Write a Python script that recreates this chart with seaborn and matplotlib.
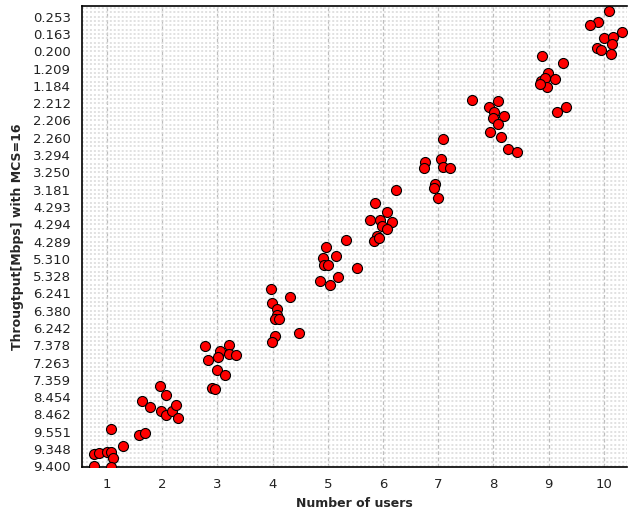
import matplotlib
matplotlib.use("Agg")
import matplotlib.pyplot as plt
import seaborn as sns
import pandas as pd
from matplotlib.ticker import MultipleLocator

# Y-axis category labels (bottom to top)
y_labels = ["9.400", "9.348", "9.551", "8.462", "8.454", "7.359", "7.263", "7.378",
            "6.242", "6.380", "6.241", "5.328", "5.310", "4.289", "4.294", "4.293",
            "3.181", "3.250", "3.294", "2.260", "2.206", "2.212", "1.184", "1.209",
            "0.200", "0.163", "0.253"]
x_ticks = [1, 2, 3, 4, 5, 6, 7, 8, 9, 10]

# jittered points: number of users (x) and throughput category position (y)
users = [
    1.078, 1.284, 0.764, 0.861, 0.995, 1.067, 1.103, 0.764, 1.067,
    1.585, 1.694, 1.634, 1.779, 1.960, 2.063, 1.978, 2.063, 2.178, 2.250, 2.292,
    2.775, 3.210, 3.047, 3.210, 3.337, 2.835, 3.011, 2.998, 3.132, 2.908, 2.957,
    3.971, 3.984, 4.085, 4.074, 4.043, 4.121, 4.321, 4.478, 4.043, 3.989,
    4.962, 5.324, 5.149, 4.918, 4.937, 5.009, 5.524, 4.859, 5.179, 5.045,
    6.236, 5.855, 6.078, 5.770, 5.940, 6.158, 5.976, 6.078, 5.886, 5.842, 5.922,
    7.082, 6.761, 6.743, 7.045, 7.092, 7.208, 6.942, 6.924, 7.002,
    7.618, 8.089, 7.920, 8.016, 7.998, 8.192, 8.089, 7.933, 8.132, 8.270, 8.422,
    8.875, 9.266, 8.995, 9.116, 8.862, 8.935, 8.976, 8.844, 9.310, 9.147,
    10.100, 9.900, 9.750, 10.335, 10.009, 10.161, 10.143, 9.871, 9.944, 10.125,
]
throughput = [
    2.14, 1.20, 0.69, 0.75, 0.81, 0.81, 0.48, 0.02, -0.06,
    1.81, 1.91, 3.80, 3.45, 4.63, 4.11, 3.17, 2.95, 3.17, 3.57, 2.82,
    6.94, 7.00, 6.67, 6.52, 6.42, 6.17, 6.31, 5.56, 5.27, 4.55, 4.46,
    10.24, 9.43, 9.07, 8.74, 8.52, 8.52, 9.78, 7.70, 7.51, 7.18,
    12.71, 13.08, 12.19, 12.05, 11.63, 11.67, 11.44, 10.72, 10.95, 10.49,
    15.97, 15.24, 14.72, 14.24, 14.24, 14.10, 13.89, 13.70, 13.31, 13.02, 13.19,
    18.92, 17.62, 17.23, 17.80, 17.32, 17.23, 16.32, 16.12, 15.49,
    21.16, 21.12, 20.79, 20.50, 20.16, 20.25, 19.79, 19.31, 19.04, 18.33, 18.19,
    23.73, 23.34, 22.76, 22.40, 22.28, 22.47, 21.95, 22.09, 20.79, 20.47,
    26.33, 25.69, 25.52, 25.12, 24.79, 24.81, 24.42, 24.21, 24.09, 23.84,
]

df = pd.DataFrame({"users": users, "throughput": throughput})

sns.set_style("white")
plt.rcParams['font.family'] = ['DejaVu Sans']

fig = plt.figure(figsize=(6.29, 5.15), dpi=100)
ax = fig.add_axes([82 / 629, (515 - 467) / 515, (627 - 82) / 629, (467 - 6) / 515])

ax.set_facecolor("white")
ax.set_xlim(0.547, 10.42)
ax.set_ylim(-0.04, 26.62)

# fine dotted background pattern
ax.yaxis.set_minor_locator(MultipleLocator(0.25))
ax.grid(which="minor", axis="y", color="#d9d9d9", linewidth=1.1,
        linestyle=(0, (1.3, 1.3)), zorder=0)
ax.grid(which="major", axis="y", color="#d9d9d9", linewidth=1.1,
        linestyle=(0, (1.3, 1.3)), zorder=0)
ax.grid(which="major", axis="x", color="#bdbdbd", linewidth=0.9,
        linestyle=(0, (3, 2)), zorder=0)
ax.set_axisbelow(True)

sns.scatterplot(data=df, x="users", y="throughput", ax=ax, color="#ff0000",
                edgecolor="black", linewidth=0.8, s=52, zorder=3, clip_on=True)

ax.set_xticks(x_ticks)
ax.set_xticklabels([str(v) for v in x_ticks], fontsize=9.5, color="#222222")
ax.set_yticks(range(len(y_labels)))
ax.set_yticklabels(y_labels, fontsize=9.5, color="#222222")
ax.tick_params(axis="both", which="major", direction="out", length=5, width=0.8,
               color="#888888", pad=3)
ax.tick_params(axis="y", which="minor", direction="out", length=2.5, width=0.6,
               color="#aaaaaa")
ax.tick_params(axis="x", which="minor", length=0)

for side in ["left", "bottom", "top"]:
    ax.spines[side].set_color("black")
    ax.spines[side].set_linewidth(1.2)
ax.spines["right"].set_visible(False)

ax.set_xlabel("Number of users", fontsize=9, fontweight="bold", labelpad=4)
ax.set_ylabel("Througtput[Mbps] with MCS=16", fontsize=9, fontweight="bold", labelpad=6)

fig.savefig("out.png", dpi=100)
